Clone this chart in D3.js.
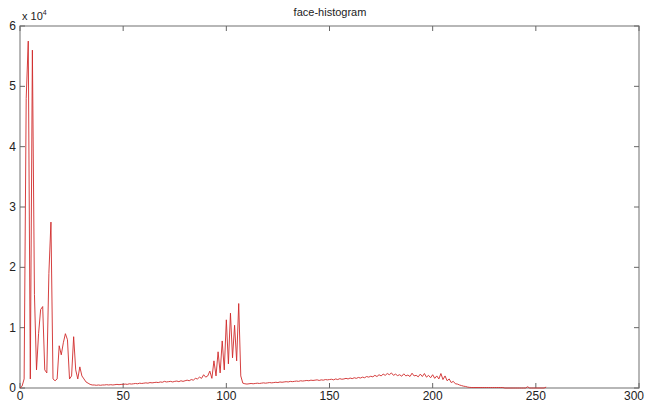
<!DOCTYPE html>
<html>
<head>
<meta charset="utf-8">
<script src="https://cdn.jsdelivr.net/npm/d3@7"></script>
<style>
  body { margin: 0; background: #fff; overflow: hidden; }
  svg { display: block; }
  text { font-family: "Liberation Sans", Arial, sans-serif; }
</style>
</head>
<body>
<div id="chart"></div>
<script>
var width = 645;
var height = 403;

var title = "face-histogram";
var xTicks = [0, 50, 100, 150, 200, 250, 300];
var yTicks = [0, 1, 2, 3, 4, 5, 6];   // x 10^4

// pixel counts per grey level 0..255
var counts = [
  0, 300, 1500, 48000, 57500, 1500, 56000, 15500, 3000, 9000,
  13000, 13500, 3000, 2500, 19000, 27500, 1500, 1200, 1500, 7000,
  5500, 7500, 9000, 8000, 1500, 2000, 8500, 3000, 1500, 3500,
  2000, 1500, 1000, 800, 600, 500, 500, 450, 500, 450,
  500, 500, 550, 500, 550, 500, 550, 600, 550, 600,
  600, 650, 600, 700, 650, 700, 750, 700, 800, 750,
  800, 850, 800, 900, 850, 900, 950, 900, 1000, 950,
  1100, 1000, 1050, 1100, 1000, 1100, 1150, 1050, 1200, 1100,
  1200, 1300, 1200, 1400, 1300, 1600, 1500, 1800, 1600, 2200,
  1800, 2000, 2800, 1600, 4500, 2000, 6000, 2500, 7800, 3000,
  11300, 4000, 12400, 5000, 10400, 4500, 14000, 2000, 800, 700,
  650, 700, 750, 700, 750, 800, 750, 800, 850, 800,
  850, 900, 850, 900, 950, 900, 1000, 950, 1000, 1050,
  1000, 1100, 1050, 1100, 1150, 1100, 1200, 1150, 1200, 1250,
  1200, 1300, 1250, 1300, 1350, 1250, 1350, 1300, 1400, 1350,
  1400, 1450, 1350, 1500, 1400, 1550, 1450, 1500, 1600, 1500,
  1650, 1550, 1700, 1600, 1750, 1650, 1800, 1700, 1900, 1800,
  1950, 1850, 2100, 1900, 2200, 2000, 2300, 2100, 2400, 2200,
  2500, 2100, 2300, 2050, 2200, 1950, 2350, 2000, 2150, 1900,
  2450, 2000, 2100, 1850, 2300, 1900, 2400, 1800, 2100, 1700,
  2200, 1600, 2000, 1500, 2400, 1400, 2000, 1200, 1500, 900,
  1100, 700, 650, 500, 400, 300, 250, 150, 100, 80,
  80, 80, 80, 80, 80, 80, 80, 80, 80, 80,
  80, 80, 80, 80, 80, 0, 0, 0, 0, 0,
  0, 0, 0, 0, 0, 0, 200, 0, 0, 0,
  0, 0, 0, 0, 0, 150
];

var plotLeft = 20, plotRight = 639, plotTop = 26, plotBottom = 388;

var svg = d3.select("#chart")
  .append("svg")
  .attr("width", width)
  .attr("height", height);

var x = d3.scaleLinear().domain([0, 300]).range([plotLeft, plotRight]);
var y = d3.scaleLinear().domain([0, 60000]).range([plotBottom, plotTop]);

// frame
svg.append("rect")
  .attr("x", plotLeft).attr("y", plotTop)
  .attr("width", plotRight - plotLeft).attr("height", plotBottom - plotTop)
  .attr("fill", "none")
  .attr("stroke", "#888")
  .attr("stroke-width", 1.2);

// inner ticks on all four sides
svg.selectAll(".xtb").data(xTicks).enter().append("line")
  .attr("x1", function(d){ return x(d); }).attr("x2", function(d){ return x(d); })
  .attr("y1", plotBottom).attr("y2", plotBottom - 5)
  .attr("stroke", "#666");
svg.selectAll(".xtt").data(xTicks).enter().append("line")
  .attr("x1", function(d){ return x(d); }).attr("x2", function(d){ return x(d); })
  .attr("y1", plotTop).attr("y2", plotTop + 5)
  .attr("stroke", "#666");
svg.selectAll(".ytl").data(yTicks).enter().append("line")
  .attr("x1", plotLeft).attr("x2", plotLeft + 5)
  .attr("y1", function(d){ return y(d * 1e4); }).attr("y2", function(d){ return y(d * 1e4); })
  .attr("stroke", "#666");
svg.selectAll(".ytr").data(yTicks).enter().append("line")
  .attr("x1", plotRight).attr("x2", plotRight - 5)
  .attr("y1", function(d){ return y(d * 1e4); }).attr("y2", function(d){ return y(d * 1e4); })
  .attr("stroke", "#666");

// tick labels (last one kept inside the window)
svg.selectAll(".xl").data(xTicks).enter().append("text")
  .text(function(d){ return d; })
  .attr("x", function(d){ return Math.min(x(d), width - 11); })
  .attr("y", 400)
  .attr("text-anchor", "middle")
  .attr("font-size", "12px")
  .attr("fill", "#222");
svg.selectAll(".yl").data(yTicks).enter().append("text")
  .text(function(d){ return d; })
  .attr("x", 16)
  .attr("y", function(d){ return y(d * 1e4) + 4; })
  .attr("text-anchor", "end")
  .attr("font-size", "12px")
  .attr("fill", "#222");

// exponent label
var ex = svg.append("text")
  .attr("x", 22).attr("y", 20)
  .attr("font-size", "11px")
  .attr("fill", "#222");
ex.append("tspan").text("x 10");
ex.append("tspan").text("4").attr("font-size", "7px").attr("dy", -5);

// title
svg.append("text")
  .text(title)
  .attr("x", 330).attr("y", 16)
  .attr("text-anchor", "middle")
  .attr("font-size", "11px")
  .attr("fill", "#222");

// histogram line
var line = d3.line()
  .x(function(d, i){ return x(i); })
  .y(function(d){ return y(d); });

svg.append("path")
  .datum(counts)
  .attr("d", line)
  .attr("fill", "none")
  .attr("stroke", "#d02a2a")
  .attr("stroke-width", 0.9);
</script>
</body>
</html>
